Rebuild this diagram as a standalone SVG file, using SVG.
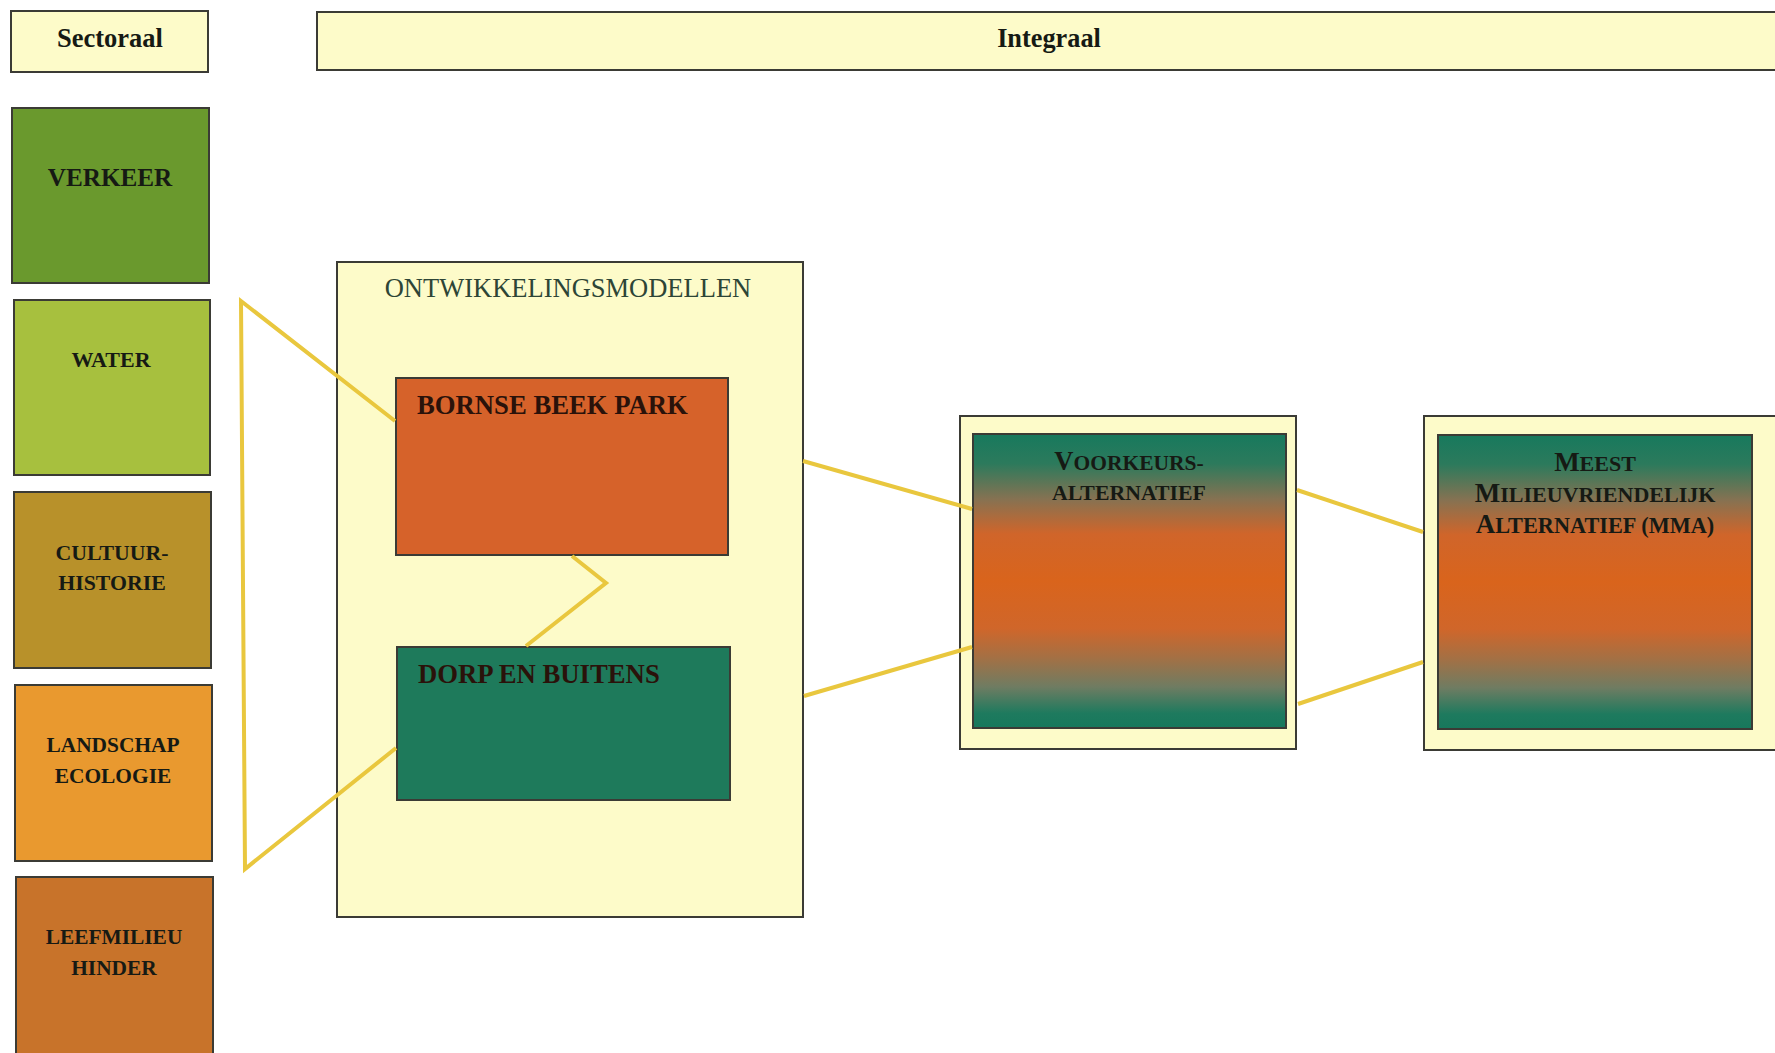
<svg xmlns="http://www.w3.org/2000/svg" width="1775" height="1053" viewBox="0 0 1775 1053">
<style>
.box{stroke:#3b3b35;stroke-width:2}
.pale{fill:#fdfbc9}
.t{font-family:"Liberation Serif","Times New Roman",serif;font-weight:bold;fill:#161a14;text-anchor:middle}
.tl{font-family:"Liberation Serif","Times New Roman",serif;font-weight:bold;fill:#2a120a}
.conn{fill:none;stroke:#e9c73e;stroke-width:4;stroke-linejoin:miter}
</style>
<defs>
<linearGradient id="mix" x1="0" y1="0" x2="0" y2="1">
<stop offset="0" stop-color="#17795d"/>
<stop offset="0.1" stop-color="#2c7a5c"/>
<stop offset="0.22" stop-color="#857252"/>
<stop offset="0.34" stop-color="#d0652a"/>
<stop offset="0.5" stop-color="#d9641c"/>
<stop offset="0.66" stop-color="#d0662a"/>
<stop offset="0.76" stop-color="#a47044"/>
<stop offset="0.86" stop-color="#6f7c62"/>
<stop offset="0.95" stop-color="#1e7a5e"/>
<stop offset="1" stop-color="#17785c"/>
</linearGradient>
</defs>
<rect width="1775" height="1053" fill="#ffffff"/>

<g id="sectoraal">
<rect class="box pale" x="11" y="11" width="197" height="61"/>
<text class="t" x="110" y="47" font-size="26.5">Sectoraal</text>
</g>
<g id="integraal">
<rect class="box pale" x="317" y="12" width="1470" height="58"/>
<text class="t" x="1049" y="47" font-size="26.3">Integraal</text>
</g>

<g id="verkeer">
<rect class="box" fill="#6a992d" x="12" y="108" width="197" height="175"/>
<text class="t" x="110" y="186" font-size="25.2">VERKEER</text>
</g>
<g id="water">
<rect class="box" fill="#a7c03e" x="14" y="300" width="196" height="175"/>
<text class="t" x="111" y="367" font-size="22">WATER</text>
</g>
<g id="cultuurhistorie">
<rect class="box" fill="#b8912a" x="14" y="492" width="197" height="176"/>
<text class="t" x="112" y="560" font-size="21.8">CULTUUR-</text>
<text class="t" x="112" y="590" font-size="21.8">HISTORIE</text>
</g>
<g id="landschap">
<rect class="box" fill="#e9992f" x="15" y="685" width="197" height="176"/>
<text class="t" x="113" y="752" font-size="21.4">LANDSCHAP</text>
<text class="t" x="113" y="783" font-size="21.4">ECOLOGIE</text>
</g>
<g id="leefmilieu">
<rect class="box" fill="#c8732a" x="16" y="877" width="197" height="190"/>
<text class="t" x="114" y="944" font-size="21.4">LEEFMILIEU</text>
<text class="t" x="114" y="975" font-size="21.4">HINDER</text>
</g>

<g id="ontwikkelingsmodellen">
<rect class="box pale" x="337" y="262" width="466" height="655"/>
<text x="568" y="297" font-size="26.5" font-family="'Liberation Serif','Times New Roman',serif" fill="#2d4536" text-anchor="middle">ONTWIKKELINGSMODELLEN</text>
</g>

<g id="bornse">
<rect class="box" fill="#d6622a" x="396" y="378" width="332" height="177"/>
<text class="tl" x="417" y="414" font-size="26.7">BORNSE BEEK PARK</text>
</g>
<g id="dorp">
<rect class="box" fill="#1e7a5b" x="397" y="647" width="333" height="153"/>
<text class="tl" x="418" y="683" font-size="26.7" fill="#15201a">DORP EN BUITENS</text>
</g>

<g id="voorkeursalternatief">
<rect class="box pale" x="960" y="416" width="336" height="333"/>
<rect class="box" fill="url(#mix)" x="973" y="434" width="313" height="294"/>
<text class="t" x="1129" y="470"><tspan font-size="26.5">V</tspan><tspan font-size="21.5">OORKEURS-</tspan></text>
<text class="t" x="1129" y="500" font-size="21.8">ALTERNATIEF</text>
</g>

<g id="mma">
<rect class="box pale" x="1424" y="416" width="370" height="334"/>
<rect class="box" fill="url(#mix)" x="1438" y="435" width="314" height="294"/>
<text class="t" x="1595" y="471"><tspan font-size="27">M</tspan><tspan font-size="22">EEST</tspan></text>
<text class="t" x="1595" y="502"><tspan font-size="27">M</tspan><tspan font-size="22">ILIEUVRIENDELIJK</tspan></text>
<text class="t" x="1595" y="533"><tspan font-size="27">A</tspan><tspan font-size="22.3">LTERNATIEF (MMA)</tspan></text>
</g>

<g id="connectors">
<polyline class="conn" points="395,421 241,301 245,869 396,748"/>
<polyline class="conn" points="572,556 606,583 526,646"/>
<line class="conn" x1="803" y1="461" x2="972" y2="509"/>
<line class="conn" x1="804" y1="696" x2="972" y2="647"/>
<line class="conn" x1="1297" y1="490" x2="1423" y2="532"/>
<line class="conn" x1="1298" y1="704" x2="1423" y2="662"/>
</g>
</svg>
